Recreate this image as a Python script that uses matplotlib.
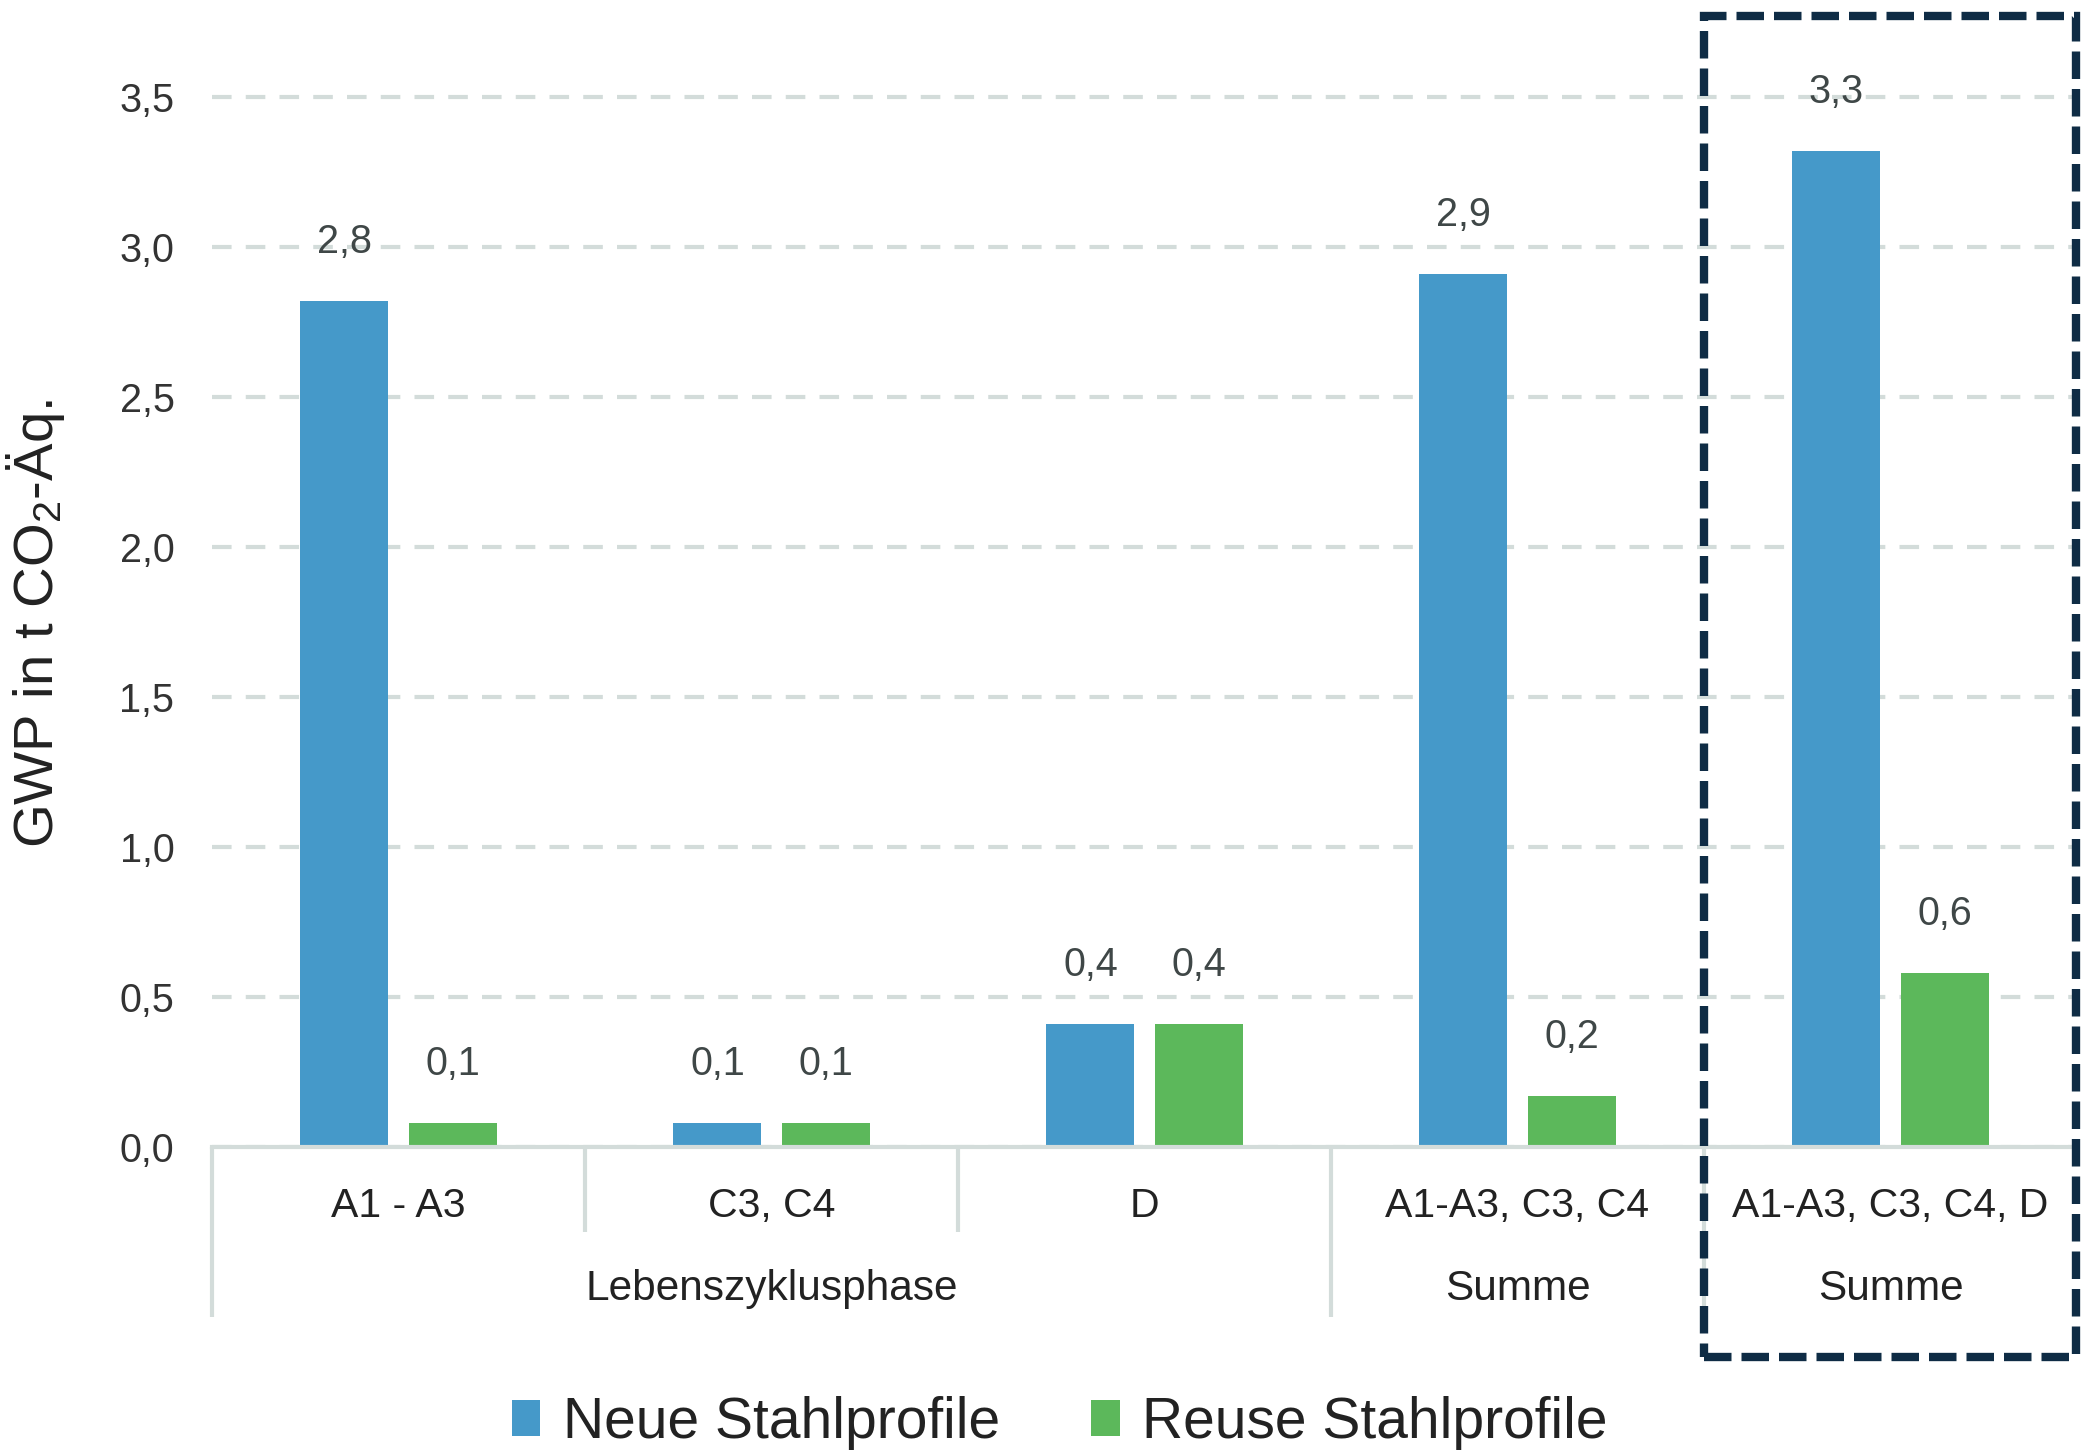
import numpy as np
import matplotlib
matplotlib.use("Agg")
import matplotlib.pyplot as plt
from matplotlib.patches import Patch, Rectangle
from matplotlib.transforms import blended_transform_factory

plt.rcParams['font.family'] = ['Liberation Sans', 'DejaVu Sans']
plt.rcParams['mathtext.fontset'] = 'custom'
plt.rcParams['mathtext.rm'] = 'Liberation Sans'
plt.rcParams['mathtext.it'] = 'Liberation Sans:italic'
plt.rcParams['mathtext.bf'] = 'Liberation Sans:bold'

# ---- data ----
categories = ["A1 - A3", "C3, C4", "D", "A1-A3, C3, C4", "A1-A3, C3, C4, D"]
groups = ["Lebenszyklusphase", "Summe", "Summe"]
group_centers = [1, 3, 4]
neue = [2.82, 0.08, 0.41, 2.91, 3.32]
reuse = [0.08, 0.08, 0.41, 0.17, 0.58]
neue_labels = ["2,8", "0,1", "0,4", "2,9", "3,3"]
reuse_labels = ["0,1", "0,1", "0,4", "0,2", "0,6"]
series_names = ["Neue Stahlprofile", "Reuse Stahlprofile"]
yticks = [0.0, 0.5, 1.0, 1.5, 2.0, 2.5, 3.0, 3.5]

blue = "#4599C9"
green = "#5CB85B"
grid_col = "#D3DCDA"
text_col = "#333333"
box_col = "#0F2C45"

W, H = 2082, 1454
fig = plt.figure(figsize=(W / 100, H / 100), dpi=100)
ax_left, ax_right = 212, 2077
ax_bottom, ax_top = 1147, 7
ax = fig.add_axes([ax_left / W, 1 - ax_bottom / H, (ax_right - ax_left) / W, (ax_bottom - ax_top) / H])

x = np.arange(len(categories))
off = 0.145
bw = 0.236
ax.bar(x - off, neue, width=bw, color=blue, zorder=3)
ax.bar(x + off, reuse, width=bw, color=green, zorder=3)

for xi, v, t in zip(x - off, neue, neue_labels):
    ax.annotate(t, (xi, v), xytext=(0, 34.5), textcoords='offset points',
                ha='center', va='baseline', fontsize=28.5, color="#3f4747", zorder=5)
for xi, v, t in zip(x + off, reuse, reuse_labels):
    ax.annotate(t, (xi, v), xytext=(0, 34.5), textcoords='offset points',
                ha='center', va='baseline', fontsize=28.5, color="#3f4747", zorder=5)

ax.set_xlim(-0.5, len(categories) - 0.5)
ax.set_ylim(0, 3.8)

for s in ["top", "right", "left"]:
    ax.spines[s].set_visible(False)
ax.spines["bottom"].set_color(grid_col)
ax.spines["bottom"].set_linewidth(3)
ax.spines["bottom"].set_zorder(4)

ax.set_yticks(yticks)
ax.set_yticklabels([f"{v:.1f}".replace('.', ',') for v in yticks], fontsize=28.5, color=text_col)
ax.set_xticks(x)
ax.set_xticklabels(categories, fontsize=29.5, color="#222222")
ax.tick_params(axis='y', length=0, pad=27)
ax.tick_params(axis='x', length=0, pad=29)

ax.yaxis.grid(True, color=grid_col, linewidth=3.0, linestyle=(0, (4.7, 3.4)), zorder=0)
ax.set_axisbelow(True)

trans = blended_transform_factory(ax.transData, ax.transAxes)
ah = ax_bottom - ax_top
short_y = -(1232 - ax_bottom) / ah
long_y = -(1317 - ax_bottom) / ah
for bx, yend in [(-0.5, long_y), (0.5, short_y), (1.5, short_y), (2.5, long_y), (3.5, long_y)]:
    ax.plot([bx, bx], [0, yend], transform=trans, color=grid_col, linewidth=3,
            clip_on=False, zorder=2, solid_capstyle='butt')

row2_y = -(1289 - ax_bottom) / ah
for gc, g in zip(group_centers, groups):
    ax.text(gc, row2_y, g, transform=trans, ha='center', va='center', fontsize=30.5, color="#222222")

# highlight box around last group
box_top = (ax_bottom - 16) / ah
box_bot = -(1357 - ax_bottom) / ah
rect = Rectangle((3.5, box_bot), 1.0 - 0.004, box_top - box_bot, transform=trans, fill=False,
                 edgecolor=box_col, linewidth=6, linestyle=(0, (3.3, 1.2)), clip_on=False, zorder=6)
ax.add_patch(rect)

fig.text(36 / W, 1 - 624 / H, r"GWP in t CO$_{\mathrm{2}}$-Äq.", rotation=90, ha='center', va='center',
         fontsize=40.5, color="#222222")

handles = [Patch(facecolor=blue, edgecolor='none'), Patch(facecolor=green, edgecolor='none')]
fig.legend(handles, series_names, loc='center', bbox_to_anchor=(0.509, 1 - 1423 / H), ncol=2,
           frameon=False, fontsize=41, handlelength=0.5, handleheight=0.6, handletextpad=0.4,
           columnspacing=1.6, borderpad=0, labelcolor="#222222")

fig.savefig("out.png", dpi=100, facecolor='white')
